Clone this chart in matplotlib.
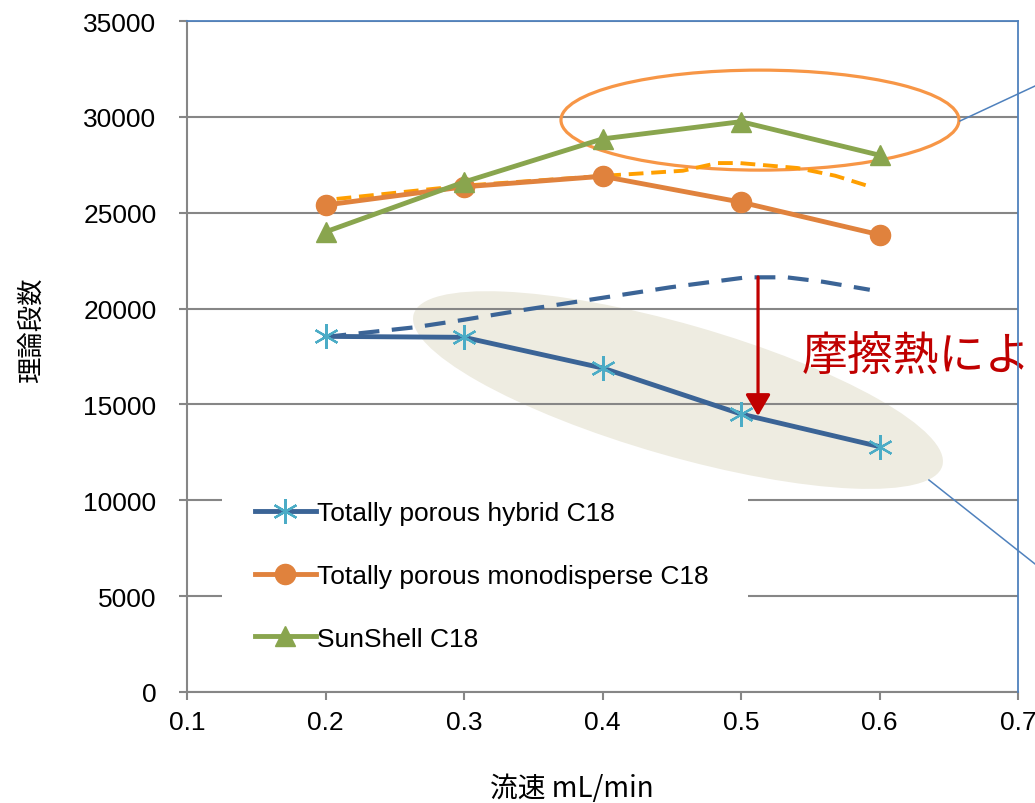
import matplotlib
matplotlib.use("Agg")
import matplotlib.pyplot as plt
import matplotlib.patches as mpatches
import matplotlib.transforms as mtransforms

# data
flow = [0.2, 0.3, 0.4, 0.5, 0.6]
hybrid = [18550, 18500, 16900, 14500, 12800]
monodisperse = [25400, 26350, 26900, 25550, 23850]
sunshell = [24000, 26600, 28850, 29750, 28000]
series_labels = ["Totally porous hybrid C18", "Totally porous monodisperse C18", "SunShell C18"]

# hand-drawn "expected" trend curves (dashed)
hyb_exp_x = [0.200, 0.264, 0.296, 0.344, 0.398, 0.449, 0.504, 0.533, 0.559, 0.593]
hyb_exp_y = [18520, 19020, 19370, 19940, 20540, 21110, 21630, 21630, 21400, 20980]
mono_exp_x = [0.208, 0.300, 0.400, 0.458, 0.483, 0.499, 0.541, 0.568, 0.592]
mono_exp_y = [25720, 26410, 26920, 27190, 27590, 27590, 27330, 26930, 26390]

x_ticks = [0.1, 0.2, 0.3, 0.4, 0.5, 0.6, 0.7]
y_ticks = list(range(0, 35001, 5000))

c_hyb = "#3B6496"
c_hyb_mk = "#4BACC6"
c_mono = "#E0823D"
c_sun = "#89A54E"
c_mono_dash = "#FF9F00"
c_red = "#C00000"
c_gray = "#868686"
c_blue = "#4F81BD"

plt.rcParams["font.family"] = ["Liberation Sans", "DejaVu Sans"]
jp = ["Noto Sans CJK JP", "DejaVu Sans"]

fig = plt.figure(figsize=(10.35, 8.04), dpi=100)
ax = fig.add_axes([187 / 1035, 1 - 693 / 804, 831 / 1035, 671 / 804])
ax.set_xlim(0.1, 0.7)
ax.set_ylim(0, 35000)

ax.set_xticks(x_ticks)
ax.set_xticklabels([f"{v:.1f}" for v in x_ticks])
ax.set_yticks(y_ticks)
ax.set_yticklabels([str(v) for v in y_ticks])
ax.tick_params(axis="y", direction="out", length=6, width=1.5, color=c_gray, labelsize=19, pad=16)
ax.tick_params(axis="x", direction="out", length=6, width=1.5, color=c_gray, labelsize=19, pad=7)

ax.set_axisbelow(True)
ax.yaxis.grid(True, color=c_gray, lw=1.5)
for s in ["left", "bottom"]:
    ax.spines[s].set_color(c_gray)
    ax.spines[s].set_linewidth(1.5)
for s in ["top", "right"]:
    ax.spines[s].set_color(c_blue)
    ax.spines[s].set_linewidth(1.3)
    ax.spines[s].set_zorder(6)

# beige highlight ellipse
tr = fig.dpi_scale_trans + mtransforms.ScaledTranslation(0.4545, 15750, ax.transData)
ax.add_patch(mpatches.Ellipse((0, 0), 5.5, 1.32, angle=-16, transform=tr,
                              facecolor="#EEECE1", edgecolor="none", zorder=0.3))
# orange ring
tr2 = fig.dpi_scale_trans + mtransforms.ScaledTranslation(0.5137, 29830, ax.transData)
ax.add_patch(mpatches.Ellipse((0, 0), 3.98, 1.0, transform=tr2,
                              facecolor="none", edgecolor="#F79646", lw=2.3, zorder=2.6))

# legend background box
ax.add_patch(mpatches.Rectangle((35 / 831, 13 / 671), 526 / 831, 198 / 671, transform=ax.transAxes,
                                facecolor="white", edgecolor="none", zorder=1))

ax.plot(hyb_exp_x, hyb_exp_y, color=c_hyb, lw=3, dashes=(5, 3), zorder=3)
ax.plot(mono_exp_x, mono_exp_y, color=c_mono_dash, lw=2.8, dashes=(3.8, 2), zorder=3)

l1, = ax.plot(flow, hybrid, color=c_hyb, lw=3.5, marker=(6, 2, 0), ms=18, mew=1.6,
              mec=c_hyb_mk, mfc=c_hyb_mk, zorder=4)
l2, = ax.plot(flow, monodisperse, color=c_mono, lw=3.5, marker="o", ms=14.5, mec=c_mono,
              mfc=c_mono, zorder=4)
l3, = ax.plot(flow, sunshell, color=c_sun, lw=3.5, marker="^", ms=14, mec=c_sun,
              mfc=c_sun, zorder=4)

leg = ax.legend([l1, l2, l3], series_labels, loc="upper left", bbox_to_anchor=(68 / 831, 191 / 671),
                frameon=False, fontsize=19, handlelength=2.3, handletextpad=0.05,
                labelspacing=1.47, borderpad=0, borderaxespad=0)
leg.set_zorder(7)

# red arrow + text
ax.annotate("", xy=(0.5123, 14400), xytext=(0.5123, 21650),
            arrowprops=dict(arrowstyle="-|>,head_length=0.65,head_width=0.38", color=c_red,
                            lw=2.3, mutation_scale=20, shrinkA=0, shrinkB=0), zorder=5)
ax.text(0.544, 17480, "摩擦熱によ", color=c_red, fontsize=33, family=jp,
        ha="left", va="center", zorder=5, clip_on=False)

# callout lines leaving the chart
ax.plot([0.6581, 0.7123], [29784, 31610], color=c_blue, lw=1.1, clip_on=False, zorder=5)
ax.plot([0.6357, 0.7123], [11058, 6677], color=c_blue, lw=1.1, clip_on=False, zorder=5)

fig.text(572 / 1035, 1 - 789 / 804, "流速 mL/min", family=jp, fontsize=20, ha="center", va="center")
fig.text(31 / 1035, 1 - 330 / 804, "理論段数", family=jp, fontsize=19, rotation=90,
         ha="center", va="center")

fig.savefig("out.png", dpi=100)
